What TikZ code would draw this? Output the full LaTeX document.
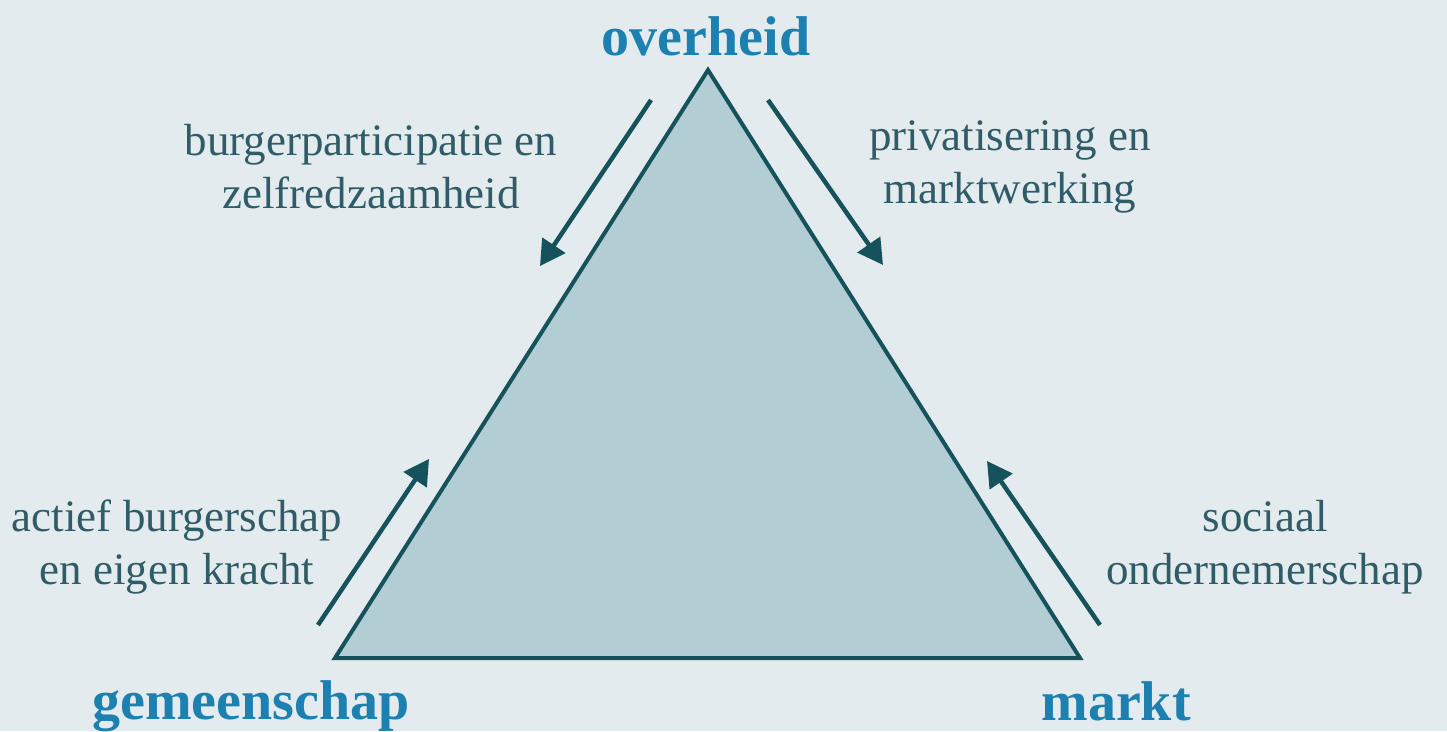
\documentclass[tikz,border=0pt]{standalone}
\usepackage{fontspec}
\setmainfont{Liberation Serif}
\usetikzlibrary{arrows.meta}
\definecolor{bgcol}{HTML}{E3EBEE}
\definecolor{trifill}{HTML}{B2CDD3}
\definecolor{darkteal}{HTML}{15525C}
\definecolor{labeltxt}{HTML}{2F5C66}
\definecolor{vblue}{HTML}{1C80B0}
\tikzset{
  tri/.style={draw=darkteal, fill=trifill, line width=4pt, line join=miter},
  flowarrow/.style={draw=darkteal, line width=4.5pt, -{Triangle[width=27pt,length=25pt]}},
  vlabel/.style={text=vblue, font=\fontsize{56}{60}\selectfont\bfseries, inner sep=0pt},
  sidelabel/.style={text=labeltxt, font=\fontsize{45}{53}\selectfont, align=center, inner sep=0pt}
}
\begin{document}
\begin{tikzpicture}[x=1pt,y=-1pt]
\fill[bgcol] (0,0) rectangle (1447,731);
\useasboundingbox (0,0) rectangle (1447,731);
\coordinate (top) at (708,70);
\coordinate (bl) at (335,658);
\coordinate (br) at (1080,658);
\draw[tri] (top) -- (bl) -- (br) -- cycle;

\coordinate (a1s) at (651,100); \coordinate (a1e) at (540,266);
\coordinate (a2s) at (768,100); \coordinate (a2e) at (883,265);
\coordinate (a3s) at (318,625); \coordinate (a3e) at (429,459);
\coordinate (a4s) at (1100,625); \coordinate (a4e) at (987,461);
\draw[flowarrow] (a1s) -- (a1e);
\draw[flowarrow] (a2s) -- (a2e);
\draw[flowarrow] (a3s) -- (a3e);
\draw[flowarrow] (a4s) -- (a4e);

\node[vlabel] (overheid) at (706,36) {overheid};
\node[vlabel] (gemeenschap) at (251,706) {gemeenschap};
\node[vlabel] (markt) at (1116,701) {markt};

\node[sidelabel] (lab1) at (371,167) {burgerparticipatie en\\zelfredzaamheid};
\node[sidelabel] (lab2) at (1010,167) {privatisering en\\marktwerking};
\node[sidelabel] (lab3) at (177,547) {actief burgerschap\\en eigen kracht};
\node[sidelabel] (lab4) at (1265,547) {sociaal\\ondernemerschap};
\end{tikzpicture}
\end{document}
